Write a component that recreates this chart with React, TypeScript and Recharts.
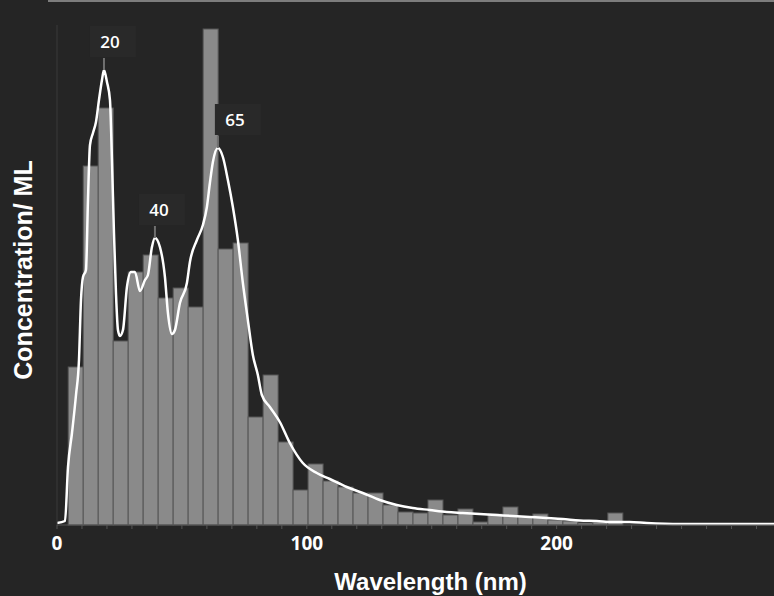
import React from 'react';
import { ComposedChart, Bar, Line, XAxis, YAxis, ReferenceDot, Label } from 'recharts';

// histogram bins (centre, nm) and their heights
const binCenters = [
  7.5, 13.5, 19.5, 25.5, 31.5, 37.5, 43.5, 49.5, 55.5, 61.5, 67.5, 73.5, 79.5,
  85.5, 91.5, 97.5, 103.5, 109.5, 115.5, 121.5, 127.5, 133.5, 139.5, 145.5,
  151.5, 157.5, 163.5, 169.5, 175.5, 181.5, 187.5, 193.5, 199.5, 205.5, 211.5,
  217.5, 223.5,
];
const binHeights = [
  31.6, 71.8, 83.4, 36.8, 50.6, 54, 45.4, 47.4, 43.6, 99.2, 55.2, 56.4, 21.6,
  30, 16.6, 7, 12.2, 8.8, 7.6, 6.4, 6.4, 4, 2.6, 2.4, 5, 2, 3.2, 0.6, 2.2, 3.6,
  1.6, 2.2, 1, 0.8, 0.4, 0.6, 2.4,
];

// smoothed size distribution curve
const curveX = [
  0, 3.2, 4.4, 6, 7.6, 8.8, 9.6, 10.4, 11.6, 12.4, 13.2, 14.4, 15.6, 16.8, 18,
  18.8, 20, 21.2, 22, 22.8, 23.6, 24.4, 25.2, 26.4, 28, 29.6, 31.2, 33.2, 35.2,
  36.4, 38, 39.2, 41.2, 43.2, 44.4, 46, 47.2, 49.2, 52, 53.2, 56, 58.4, 60,
  61.2, 62.4, 64.4, 66.4, 68.4, 70.4, 72.4, 74.4, 76.4, 78.4, 80.4, 82, 85.2,
  89.2, 93.2, 98.4, 104, 109.2, 116, 122.4, 129.2, 136, 142.4, 149.2, 156,
  162.4, 169.2, 176, 182.4, 189.2, 196, 202.4, 209.2, 216, 222.4, 229.2, 236,
  249.2, 287,
];
const curveV = [
  0.4, 0.8, 11.6, 18.4, 26, 33, 45, 49.6, 51, 65, 76, 78.4, 80.6, 85, 89,
  91, 88.6, 85, 73, 58.4, 46.4, 39, 37.8, 39, 47.6, 50.6, 50.6, 46.8, 49,
  50, 55.6, 57.4, 55.6, 49.6, 42.4, 38.2, 39, 44.4, 48.4, 52.6, 57, 60, 63.6,
  68.4, 72.6, 75.4, 73.6, 69, 63.6, 57, 48.4, 41, 34, 30, 26, 23.6,
  20.6, 16.4, 12.4, 10.4, 9.2, 7.6, 6.4, 5, 4, 3.4, 3, 2.6,
  2.4, 2.2, 2, 1.8, 1.6, 1.4, 1.2, 0.9, 0.8, 0.6, 0.6, 0.4,
  0.2, 0.2,
];

const peakX = [18.8, 39.2, 64.4];
const peakV = [91, 57.4, 75.4];
const peakLabels = ['20', '40', '65'];

const xTicks = [0, 10, 20, 30, 40, 50, 60, 70, 80, 90, 100, 110, 120, 130, 140, 150, 160, 170, 180, 190, 200, 210, 220, 230, 240, 250, 260, 270, 280];

const bars = binCenters.map((x, i) => ({ x, count: binHeights[i] }));
const curve = curveX.map((x, i) => ({ x, v: curveV[i] }));

const BAR_W = 15;

// bars on a number axis come out hairline thin, so widen them around their centre
const BinBar = ({ x, y, width, height }: any) => {
  if (!height || height <= 0) return null;
  const mid = x + width / 2;
  return (
    <rect
      x={mid - BAR_W / 2}
      y={y}
      width={BAR_W}
      height={height}
      fill="#8a8a8a"
      stroke="#575757"
      strokeWidth={1}
    />
  );
};

// horizontal nudge of each peak tag relative to its peak
const tagShift: Record<string, number> = { '20': 6, '40': 4, '65': 17 };

const PeakTag = ({ cx, cy, text }: any) => {
  const dx = tagShift[text] ?? 0;
  return (
    <g>
      <rect x={cx + dx - 20} y={cy - 44} width={46} height={31} fill="#292929" />
      <line x1={cx} x2={cx} y1={cy - 12} y2={cy} stroke="#707070" strokeWidth={2} />
      <text
        x={cx + dx}
        y={cy - 29}
        textAnchor="middle"
        dominantBaseline="central"
        fill="#ffffff"
        fontFamily="Open Sans"
        fontWeight={600}
        fontSize={17}
      >
        {text}
      </text>
    </g>
  );
};

export default function App() {
  return (
    <div style={{ position: 'absolute', left: 0, top: 0, width: 774, height: 596, background: '#252525' }}>
      <div style={{ position: 'absolute', left: 48, right: 0, top: 0, height: 2, background: '#7d7d7d' }} />
      <ComposedChart width={774} height={596} data={bars} margin={{ top: 25, right: 0, left: 0, bottom: 0 }}>
        <XAxis
          dataKey="x"
          type="number"
          domain={[0, 287]}
          ticks={xTicks}
          interval={0}
          allowDataOverflow
          tickFormatter={(v: number) => (v % 100 === 0 ? String(v) : '')}
          axisLine={{ stroke: '#555' }}
          tickLine={{ stroke: '#555' }}
          tickSize={4}
          tickMargin={8}
          height={71}
          tick={{ fill: '#fff', fontSize: 19, fontWeight: 700, fontFamily: 'Open Sans' }}
        >
          <Label
            value="Wavelength (nm)"
            position="insideBottom"
            offset={6}
            dx={15}
            fill="#fff"
            style={{ fontFamily: 'Liberation Sans', fontWeight: 700, fontSize: 24 }}
          />
        </XAxis>
        <YAxis
          type="number"
          domain={[0, 100]}
          tick={false}
          tickLine={false}
          width={57}
          axisLine={{ stroke: '#3a3a3a' }}
        >
          <Label
            content={() => (
              <text
                x={23}
                y={270}
                transform="rotate(-90, 23, 270)"
                textAnchor="middle"
                dominantBaseline="central"
                fill="#fff"
                fontFamily="Liberation Sans"
                fontWeight={700}
                fontSize={25}
              >
                Concentration/ ML
              </text>
            )}
          />
        </YAxis>
        <Bar dataKey="count" fill="#8a8a8a" shape={(p: any) => <BinBar {...p} />} isAnimationActive={false} />
        <Line
          data={curve}
          dataKey="v"
          type="monotone"
          stroke="#ffffff"
          strokeWidth={2.5}
          dot={false}
          activeDot={false}
          isAnimationActive={false}
        />
        {peakX.map((x, i) => (
          <ReferenceDot
            key={peakLabels[i]}
            x={x}
            y={peakV[i]}
            r={0}
            shape={(p: any) => <PeakTag cx={p.cx} cy={p.cy} text={peakLabels[i]} />}
          />
        ))}
      </ComposedChart>
    </div>
  );
}
